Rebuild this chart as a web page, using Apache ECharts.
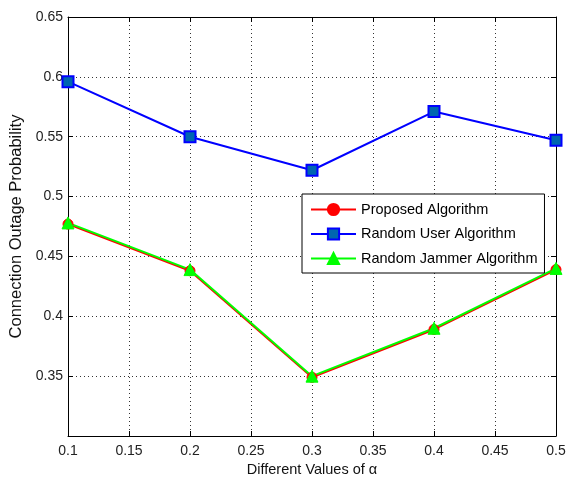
<!DOCTYPE html>
<html><head><meta charset="utf-8">
<script src="https://cdn.jsdelivr.net/npm/echarts@6/dist/echarts.min.js"></script>
<style>html,body{margin:0;padding:0;background:#fff}#c{width:566px;height:479px}</style>
</head><body><div id="c"></div>
<script>
const xValues = [0.1, 0.2, 0.3, 0.4, 0.5];
const proposed = [0.477, 0.438, 0.349, 0.389, 0.439];
const randomUser = [0.596, 0.550, 0.522, 0.571, 0.547];
const randomJammer = [0.478, 0.439, 0.350, 0.390, 0.440];
const seriesNames = ['Proposed Algorithm', 'Random User Algorithm', 'Random Jammer Algorithm'];
const xTitle = 'Different Values of \u03b1';
const yTitle = 'Connection Outage Probability';

const font = 'Liberation Sans, Arial, sans-serif';
const pair = arr => xValues.map((x, i) => [x, arr[i]]);
const fmt = v => String(parseFloat(v.toFixed(2)));

const chart = echarts.init(document.getElementById('c'));
const axisCommon = {
  axisLine: {show: true, onZero: false, lineStyle: {color: '#000', width: 1}},
  axisTick: {show: true, inside: true, length: 5, lineStyle: {color: '#000'}},
};
chart.setOption({
  animation: false,
  backgroundColor: '#fff',
  grid: {left: 68, right: 10, top: 17, bottom: 43, containLabel: false, outerBoundsMode: 'none'},
  legend: {
    orient: 'vertical', left: 302, top: 194,
    backgroundColor: '#fff', borderColor: '#000', borderWidth: 1,
    padding: [8, 7, 7, 8], itemGap: 9.5,
    itemWidth: 45, itemHeight: 14,
    textStyle: {fontFamily: font, fontSize: 14.5, color: '#000'},
    data: seriesNames
  },
  xAxis: [{
    type: 'value', min: 0.1, max: 0.5, interval: 0.05,
    name: xTitle, nameLocation: 'middle', nameGap: 26,
    nameTextStyle: {fontFamily: font, fontSize: 14.5, color: '#111'},
    ...axisCommon,
    axisLabel: {fontFamily: font, fontSize: 14, color: '#222', margin: 8, formatter: fmt},
    splitLine: {show: true, lineStyle: {type: [1, 3], color: '#333', width: 1}}
  }, {
    type: 'value', position: 'top', min: 0.1, max: 0.5, interval: 0.05,
    ...axisCommon, axisLabel: {show: false}, splitLine: {show: false}
  }],
  yAxis: [{
    type: 'value', min: 0.3, max: 0.65, interval: 0.05,
    name: yTitle, nameLocation: 'middle', nameGap: 41,
    nameTextStyle: {fontFamily: font, fontSize: 16.5, color: '#111'},
    ...axisCommon,
    axisLabel: {fontFamily: font, fontSize: 14, color: '#222', margin: 5,
      formatter: v => Math.abs(v - 0.3) < 1e-6 ? '' : fmt(v)},
    splitLine: {show: true, lineStyle: {type: [1, 3], color: '#333', width: 1}}
  }, {
    type: 'value', position: 'right', min: 0.3, max: 0.65, interval: 0.05,
    ...axisCommon, axisLabel: {show: false}, splitLine: {show: false}
  }],
  series: [{
    name: seriesNames[0], type: 'line', data: pair(proposed),
    symbol: 'circle', symbolSize: 10,
    lineStyle: {color: '#ff0000', width: 2},
    itemStyle: {color: '#ff0000', borderColor: '#ff0000', borderWidth: 1}
  }, {
    name: seriesNames[1], type: 'line', data: pair(randomUser),
    symbol: 'rect', symbolSize: 11,
    lineStyle: {color: '#0000ff', width: 2},
    itemStyle: {color: '#0066b0', borderColor: '#0000ff', borderWidth: 2}
  }, {
    name: seriesNames[2], type: 'line', data: pair(randomJammer),
    symbol: 'triangle', symbolSize: 12,
    lineStyle: {color: '#00ff00', width: 2},
    itemStyle: {color: '#00ff00', borderColor: '#00ff00', borderWidth: 1}
  }]
});
</script></body></html>
